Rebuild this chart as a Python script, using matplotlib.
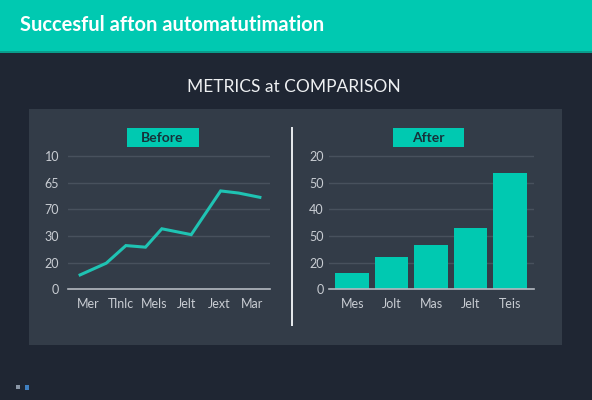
import matplotlib.pyplot as plt
from matplotlib.patches import Rectangle

# data
before_labels = ["Mer", "Tlnlc", "Mels", "Jelt", "Jext", "Mar"]
before_x = [-0.25, 0.55, 1.15, 1.75, 2.25, 3.15, 4.05, 4.6, 5.25]
before_y = [0.54, 0.98, 1.64, 1.58, 2.27, 2.05, 3.69, 3.61, 3.45]
before_ticks = ["0", "20", "30", "70", "65", "10"]

after_labels = ["Mes", "Jolt", "Mas", "Jelt", "Teis"]
after_vals = [0.62, 1.23, 1.67, 2.29, 4.36]
after_ticks = ["0", "20", "50", "40", "50", "20"]

W, H = 592, 400
BG = "#1f2633"
PANEL = "#333c48"
TEAL = "#00c9b1"
GRID = "#48515d"
TXT = "#c9cdd3"

fig = plt.figure(figsize=(W / 100, H / 100), dpi=100, facecolor=BG)


def box(x, y, w, h, color, z=0):
    # pixel coords from top-left
    fig.add_artist(Rectangle((x / W, 1 - (y + h) / H), w / W, h / H,
                             transform=fig.transFigure, color=color, zorder=z, lw=0))


box(0, 0, W, 52, TEAL)
box(0, 51, W, 1.5, "#0a9c8c")
box(29, 109, 533, 236, PANEL)
box(126.5, 128, 72, 19, TEAL, 2)
box(392.5, 128, 71, 19, TEAL, 2)
box(290.5, 127, 2, 199, "#e4e7ea", 2)
box(16, 385, 4, 4, "#8a96a6", 2)
box(25, 384.5, 4, 5, "#3f7fc0", 2)

fig.text(20 / W, 1 - 25 / H, "Succesful afton automatutimation", color="white",
         fontsize=14.5, fontweight="bold", family="Lato", va="center", ha="left")
fig.text(294 / W, 1 - 87 / H, "METRICS at COMPARISON", color="#eef0f2",
         fontsize=12.5, family="Lato", va="center", ha="center")
fig.text(162.5 / W, 1 - 137.5 / H, "Before", color="#16323a", fontsize=10,
         fontweight="bold", family="Lato", va="center", ha="center", zorder=3)
fig.text(428 / W, 1 - 137.5 / H, "After", color="#16323a", fontsize=10,
         fontweight="bold", family="Lato", va="center", ha="center", zorder=3)


def setup(ax, ticks):
    ax.set_facecolor("none")
    ax.set_ylim(0, 5.1)
    ax.set_yticks(range(6))
    ax.set_yticklabels(ticks)
    ax.grid(axis="y", color=GRID, lw=1)
    ax.set_axisbelow(True)
    for s in ["top", "right", "left"]:
        ax.spines[s].set_visible(False)
    ax.spines["bottom"].set_color("#b5bac1")
    ax.spines["bottom"].set_linewidth(1.2)
    ax.tick_params(length=0, colors=TXT, labelsize=9, pad=6)
    for t in ax.get_xticklabels() + ax.get_yticklabels():
        t.set_family("Lato")


ph = 133.3 * 5.1 / 5
ax1 = fig.add_axes([67.7 / W, 1 - 289.3 / H, (270 - 67.7) / W, ph / H])
ax1.plot(before_x, before_y, color="#1fc3b3", lw=2.2, solid_joinstyle="miter")
ax1.set_xlim(-0.63, 5.56)
ax1.set_xticks(range(len(before_labels)))
ax1.set_xticklabels(before_labels)
setup(ax1, before_ticks)
ax1.tick_params(axis="y", pad=6)

ax2 = fig.add_axes([329.3 / W, 1 - 289.3 / H, (534.3 - 329.3) / W, ph / H])
ax2.bar(range(len(after_vals)), after_vals, width=0.85, color=TEAL)
ax2.set_xlim(-0.58, 4.62)
ax2.set_xticks(range(len(after_labels)))
ax2.set_xticklabels(after_labels)
setup(ax2, after_ticks)
ax2.tick_params(axis="y", pad=4)

fig.savefig("out.png", dpi=100, facecolor=BG)
